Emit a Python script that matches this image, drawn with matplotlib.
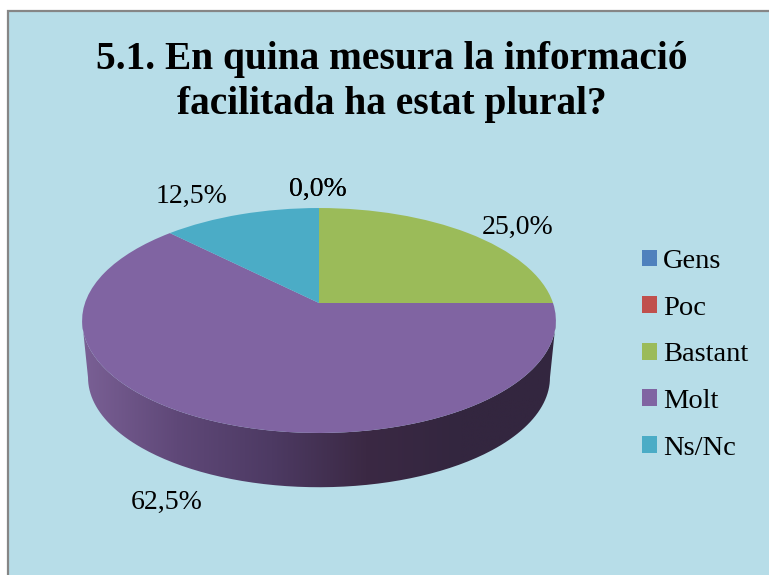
"""
5.1 pie chart - 3D-looking pie with perspective, drawn on a pixel sized axes
"""
import numpy as np
import matplotlib
matplotlib.use("Agg")
import matplotlib.pyplot as plt
from matplotlib.colors import LinearSegmentedColormap
from matplotlib.patches import PathPatch, Rectangle
from matplotlib.path import Path
from matplotlib.transforms import Transform

plt.rcParams['font.family'] = ['Liberation Serif', 'DejaVu Serif']

categories = ["Gens", "Poc", "Bastant", "Molt", "Ns/Nc"]
values = [0.0, 0.0, 25.0, 62.5, 12.5]
colors = ["#4f81bd", "#c0504d", "#9bbb59", "#8064a2", "#4bacc6"]
title = "5.1. En quina mesura la informació\nfacilitada ha estat plural?"

# label centres in pixels, same order as categories
label_x = [318, 318, 518, 167, 192]
label_y = [189, 189, 227, 502, 196]

side_colors = ["#7a6095", "#5f4878", "#4d3a63", "#3b2944", "#33263f", "#33263f"]
bg_color = "#b7dde8"

TILT = 0.1556


class Perspective(Transform):
    """unit circle of the pie -> pixels, tilted so the near half looks bigger"""
    input_dims = 2
    output_dims = 2

    def __init__(self, dy=0.0, scale=1.0):
        super().__init__()
        self.dy, self.scale = dy, scale

    def transform_non_affine(self, values):
        xy = np.asarray(values, dtype=float)
        u, v = xy[:, 0], xy[:, 1]
        w = 1 + TILT * v
        px = 319 + self.scale * 234 * u / w
        py = 303 + self.dy - self.scale * 109.75 * v / w
        return np.column_stack([px, py])


fig = plt.figure(figsize=(7.69, 5.75), dpi=100, facecolor="white")
ax = fig.add_axes([0, 0, 1, 1])

wedges, _ = ax.pie(values, colors=colors, startangle=90, counterclock=False,
                   wedgeprops={"linewidth": 0, "zorder": 3})
top = Perspective()
for w in wedges:
    w.set_transform(top + ax.transData)

ax.set_aspect("auto")
ax.set_axis_off()

ax.add_patch(Rectangle((8, 11), 800, 600, facecolor=bg_color, edgecolor="#868686",
                       linewidth=1.6, zorder=0))

# side wall of the big slice, only the front shows
# widest point of the tilted ellipse is at v = -TILT, start the wall there
t_start = 180 + np.degrees(np.arcsin(TILT))
t = np.radians(np.linspace(t_start, 540 - t_start, 200))
circle = np.column_stack([np.cos(t), np.sin(t)])
upper = top.transform_non_affine(circle)
lower = Perspective(dy=57.5, scale=0.975).transform_non_affine(circle)[::-1]
outline = np.vstack([upper, lower, upper[:1]])
side = PathPatch(Path(outline), facecolor="none", edgecolor="none", zorder=1)
ax.add_patch(side)
cmap = LinearSegmentedColormap.from_list("side", side_colors)
im = ax.imshow(np.linspace(0, 1, 256).reshape(1, -1), cmap=cmap, aspect="auto",
               extent=(82, 556, 500, 300), zorder=2)
im.set_clip_path(side)
ax.set_xlim(0, 769)
ax.set_ylim(575, 0)

# both zero slices print their label on the same spot, as in the original
for x, y, v in zip(label_x, label_y, values):
    ax.text(x, y, f"{v:.1f}%".replace(".", ","), fontsize=20, color="black",
            ha="center", va="center", zorder=5)

ax.text(392, 82, title, fontsize=28.4, fontweight="bold", color="black", ha="center",
        va="center", linespacing=1.3, zorder=5)

ax.legend(wedges, categories, loc="upper left", bbox_to_anchor=(642 / 769, 1 - 249 / 575),
          bbox_transform=fig.transFigure, frameon=False, fontsize=20.5, borderpad=0,
          borderaxespad=0, handlelength=0.53, handleheight=0.53, handletextpad=0.2,
          labelspacing=0.76)

fig.savefig("out.png", dpi=100)
plt.close(fig)
